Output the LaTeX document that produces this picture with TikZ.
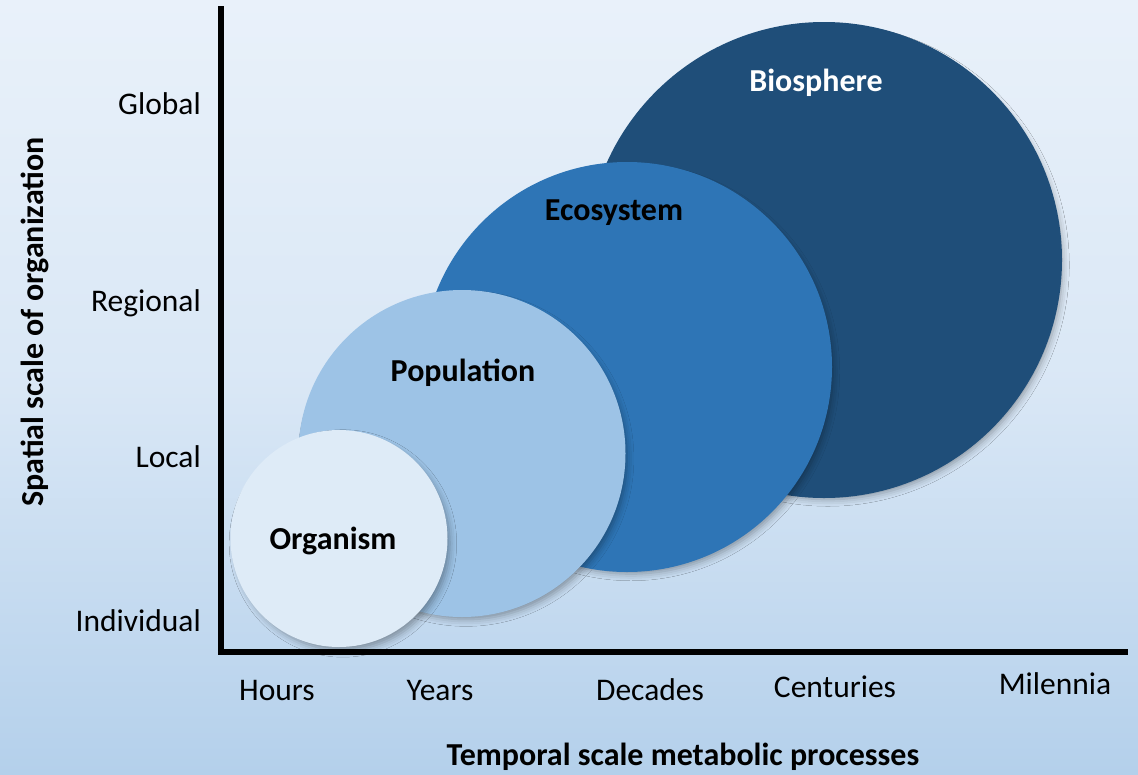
\documentclass[tikz,border=0pt]{standalone}
\usepackage{fontspec}
\setmainfont{Carlito}
\usetikzlibrary{shadows.blur}
\definecolor{bgtop}{RGB}{233,241,250}
\definecolor{bgbot}{RGB}{180,208,235}
\definecolor{bio}{RGB}{31,78,121}
\definecolor{eco}{RGB}{46,117,182}
\definecolor{pop}{RGB}{157,195,230}
\definecolor{org}{RGB}{222,235,247}
\tikzset{
  bubble/.style={circle, inner sep=0pt, minimum size=#1,
    blur shadow={shadow xshift=4pt, shadow yshift=-5pt, shadow scale=0.985, shadow blur radius=7pt, shadow opacity=35}},
  ticklab/.style={font=\fontsize{31.5}{34}\selectfont, text=black, inner sep=0pt},
  bubblelab/.style={font=\fontsize{32}{34}\selectfont\bfseries, inner sep=0pt},
  axislab/.style={font=\fontsize{32}{34}\selectfont\bfseries, inner sep=0pt},
  axisline/.style={line width=6pt, black}
}
\begin{document}
\begin{tikzpicture}[x=1pt,y=-1pt]
\useasboundingbox (0,0) rectangle (1138,774);
\shade[top color=bgtop, bottom color=bgbot, middle color=bgtop!70!bgbot] (0,0) rectangle (1138,774);
% bubbles
\node[bubble=476pt, fill=bio] (biosphere) at (824,260) {};
\node[bubble=410pt, fill=eco] (ecosystem) at (627,367) {};
\node[bubble=327pt, fill=pop] (population) at (462,453.5) {};
\node[bubble=217pt, fill=org] (organism) at (339,538.5) {};
\node[bubblelab, text=white] (lbio) at (816,83) {Biosphere};
\node[bubblelab] (leco) at (614,213) {Ecosystem};
\node[bubblelab] (lpop) at (463,373) {Population};
\node[bubblelab] (lorg) at (333,541) {Organism};
% axes
\coordinate (top) at (221,6);
\coordinate (corner) at (221,652);
\coordinate (right) at (1128,652);
\draw[axisline, line join=miter] (top) -- (corner) -- (right);
% y tick labels
\node[ticklab, anchor=east] (global) at (201,104) {Global};
\node[ticklab, anchor=east] (regional) at (201,303) {Regional};
\node[ticklab, anchor=east] (local) at (201,457) {Local};
\node[ticklab, anchor=east] (individual) at (201,621) {Individual};
% x tick labels
\node[ticklab] (hours) at (277,690) {Hours};
\node[ticklab] (years) at (440,690) {Years};
\node[ticklab] (decades) at (650,690) {Decades};
\node[ticklab] (centuries) at (835,687) {Centuries};
\node[ticklab] (milennia) at (1055,684) {Milennia};
% axis titles
\node[axislab] (xtitle) at (683,757) {Temporal scale metabolic processes};
\node[axislab, rotate=90] (ytitle) at (35,322) {Spatial scale of organization};
\end{tikzpicture}
\end{document}
